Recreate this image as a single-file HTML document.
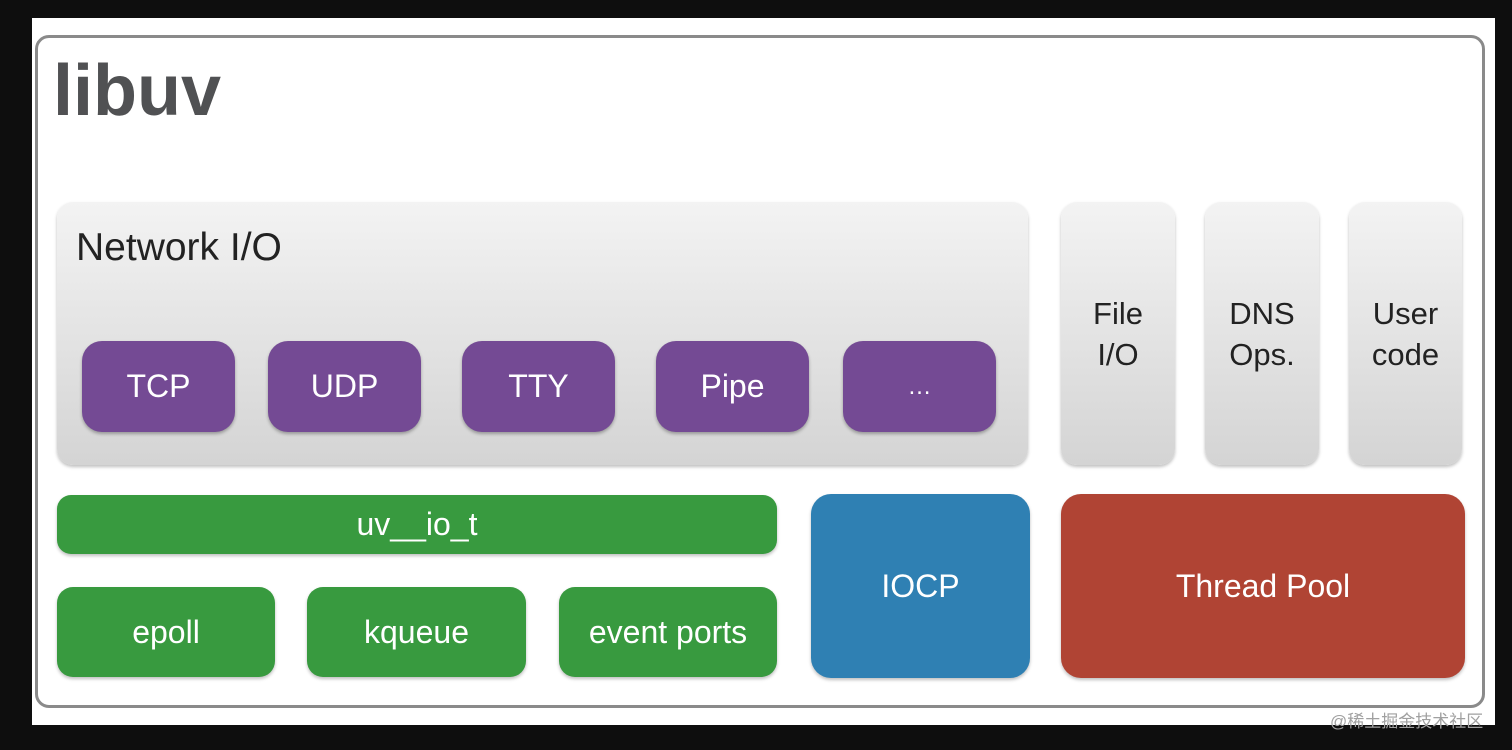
<!DOCTYPE html>
<html><head><meta charset="utf-8"><style>
body{margin:0;width:1512px;height:750px;background:#0e0e0e;position:relative;overflow:hidden;font-family:"Liberation Sans","Noto Sans CJK SC",sans-serif}
.abs{position:absolute;box-sizing:border-box}
.white{left:32px;top:18px;width:1463px;height:707px;background:#fff}
.frame{left:35px;top:35px;width:1450px;height:673px;border:3px solid #8a8a8a;border-radius:14px}
.gray{background:linear-gradient(#f3f3f3,#d4d4d4);border-radius:16px;box-shadow:0 2px 3px rgba(0,0,0,.25)}
.c{display:flex;align-items:center;justify-content:center;text-align:center;color:#fff;font-size:32px}
.p{background:#744a94;border-radius:20px;top:341px;height:91px;width:153px;box-shadow:0 2px 3px rgba(0,0,0,.3)}
.g{background:#389a3f;border-radius:16px;box-shadow:0 2px 3px rgba(0,0,0,.25)}
.v{color:#222;font-size:31px;line-height:41px;padding-top:0px}
</style></head><body>
<div class="abs white"></div>
<div class="abs frame"></div>
<div class="abs" style="left:53px;top:50px;font-size:72px;font-weight:bold;color:#505153">libuv</div>
<div class="abs gray" style="left:57px;top:202px;width:971px;height:263px"></div>
<div class="abs" style="left:76px;top:226px;font-size:39px;color:#222">Network I/O</div>
<div class="abs p c" style="left:82px">TCP</div>
<div class="abs p c" style="left:268px">UDP</div>
<div class="abs p c" style="left:462px">TTY</div>
<div class="abs p c" style="left:656px">Pipe</div>
<div class="abs p c" style="left:843px;font-size:24px">…</div>
<div class="abs gray c v" style="left:1061px;top:202px;width:114px;height:263px">File<br>I/O</div>
<div class="abs gray c v" style="left:1205px;top:202px;width:114px;height:263px">DNS<br>Ops.</div>
<div class="abs gray c v" style="left:1349px;top:202px;width:113px;height:263px">User<br>code</div>
<div class="abs g c" style="left:57px;top:495px;width:720px;height:59px;border-radius:14px">uv__io_t</div>
<div class="abs g c" style="left:57px;top:587px;width:218px;height:90px">epoll</div>
<div class="abs g c" style="left:307px;top:587px;width:219px;height:90px">kqueue</div>
<div class="abs g c" style="left:559px;top:587px;width:218px;height:90px">event ports</div>
<div class="abs c" style="left:811px;top:494px;width:219px;height:184px;background:#2f80b3;border-radius:20px;box-shadow:0 2px 3px rgba(0,0,0,.25)">IOCP</div>
<div class="abs c" style="left:1061px;top:494px;width:404px;height:184px;background:#b04434;border-radius:20px;box-shadow:0 2px 3px rgba(0,0,0,.25)">Thread Pool</div>
<div class="abs" style="left:1330px;top:707px;font-size:17px;color:#a0a0a0">@稀土掘金技术社区</div>
</body></html>
